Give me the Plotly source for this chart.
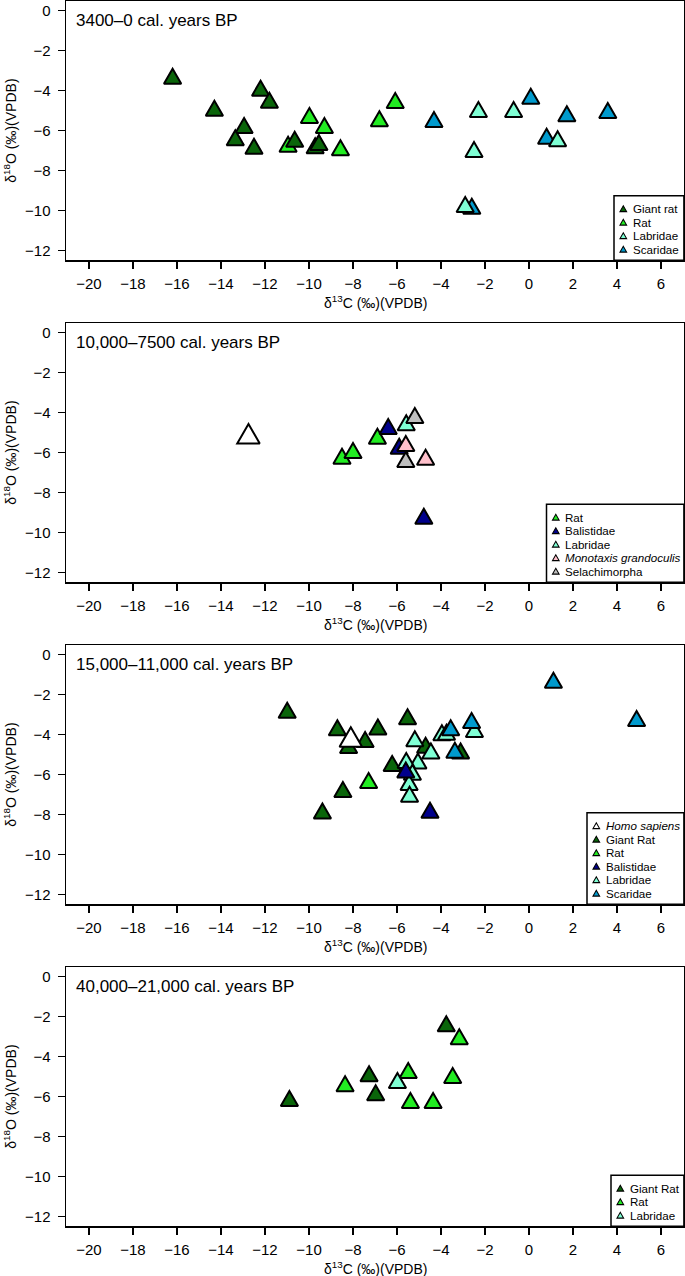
import math
import plotly.graph_objects as go

W, H = 685, 1276

X_RANGE = [-21.04, 7.04]
Y_RANGE = [-12.48, 0.48]
X_TICKS = list(range(-20, 7, 2))
Y_TICKS = list(range(-12, 1, 2))

PANEL_TITLES = ["3400–0 cal. years BP", "10,000–7500 cal. years BP",
                "15,000–11,000 cal. years BP", "40,000–21,000 cal. years BP"]

# ---- Panel 1: 3400–0 cal. years BP ----
p1_giant_rat_x = [-16.2, -14.3, -12.2, -11.8, -12.95, -13.35, -12.5, -10.65, -9.72, -9.55]
p1_giant_rat_y = [-3.4, -5.0, -4.0, -4.6, -5.87, -6.48, -6.9, -6.55, -6.88, -6.72]
p1_rat_x = [-10.95, -9.98, -9.3, -8.57, -6.8, -6.08]
p1_rat_y = [-6.8, -5.37, -5.87, -6.98, -5.53, -4.62]
p1_scaridae_x = [-4.32, 0.08, 0.8, 1.72, 3.58, -2.6]
p1_scaridae_y = [-5.57, -4.4, -6.4, -5.28, -5.12, -9.9]
p1_labridae_x = [-2.3, -2.5, -0.7, 1.3, -2.9]
p1_labridae_y = [-5.07, -7.07, -5.07, -6.53, -9.82]

# ---- Panel 2: 10,000–7500 cal. years BP ----
p2_homo_x = [-12.75]
p2_homo_y = [-5.21]
p2_rat_x = [-8.5, -8.0, -6.89]
p2_rat_y = [-6.3, -6.02, -5.3]
p2_balistidae_x = [-6.4, -5.9, -4.78]
p2_balistidae_y = [-4.82, -5.8, -9.3]
p2_labridae_x = [-5.58]
p2_labridae_y = [-4.63]
p2_monotaxis_x = [-5.6, -4.7]
p2_monotaxis_y = [-5.67, -6.35]
p2_selachimorpha_x = [-5.19, -5.6]
p2_selachimorpha_y = [-4.27, -6.47]

# ---- Panel 3: 15,000–11,000 cal. years BP ----
p3_homo_x = [-8.1]
p3_homo_y = [-4.28]
p3_giant_rat_x = [-10.99, -5.52, -8.71, -6.87, -7.45, -8.2, -4.7, -3.11, -6.22, -8.46, -9.39]
p3_giant_rat_y = [-2.9, -3.23, -3.78, -3.74, -4.36, -4.66, -4.65, -4.94, -5.56, -6.86, -7.94]
p3_rat_x = [-7.29]
p3_rat_y = [-6.41]
p3_balistidae_x = [-5.6, -4.5]
p3_balistidae_y = [-5.89, -7.9]
p3_labridae_x = [-5.19, -4.46, -5.05, -5.58, -5.3, -5.45, -5.43, -3.96, -3.75, -2.48]
p3_labridae_y = [-4.33, -4.94, -5.44, -5.41, -6.0, -6.52, -7.1, -4.03, -4.0, -3.86]
p3_scaridae_x = [1.11, 4.89, -3.56, -2.61, -3.37]
p3_scaridae_y = [-1.40, -3.31, -3.78, -3.41, -4.9]

# ---- Panel 4: 40,000–21,000 cal. years BP ----
p4_giant_rat_x = [-10.89, -7.27, -6.97, -3.76]
p4_giant_rat_y = [-6.22, -4.98, -5.93, -2.48]
p4_rat_x = [-8.36, -5.49, -5.39, -4.36, -3.47, -3.17]
p4_rat_y = [-5.48, -4.82, -6.32, -6.32, -5.07, -3.13]
p4_labridae_x = [-5.98]
p4_labridae_y = [-5.32]

COL = {
    "Giant rat": "#0a650a",
    "Rat": "#22ec22",
    "Labridae": "#7fffd4",
    "Scaridae": "#009acd",
    "Balistidae": "#00008b",
    "Monotaxis": "#ffc0cb",
    "Selachimorpha": "#bebebe",
    "Homo": "#ffffff",
}

# draw order per panel: (key, x, y, big)
panels = [
    [("Rat", p1_rat_x, p1_rat_y, False), ("Giant rat", p1_giant_rat_x, p1_giant_rat_y, False),
     ("Scaridae", p1_scaridae_x, p1_scaridae_y, False), ("Labridae", p1_labridae_x, p1_labridae_y, False)],
    [("Homo", p2_homo_x, p2_homo_y, True), ("Rat", p2_rat_x, p2_rat_y, False),
     ("Balistidae", p2_balistidae_x, p2_balistidae_y, False), ("Labridae", p2_labridae_x, p2_labridae_y, False),
     ("Monotaxis", p2_monotaxis_x, p2_monotaxis_y, False),
     ("Selachimorpha", p2_selachimorpha_x, p2_selachimorpha_y, False)],
    [("Giant rat", p3_giant_rat_x, p3_giant_rat_y, False), ("Rat", p3_rat_x, p3_rat_y, False),
     ("Labridae", p3_labridae_x, p3_labridae_y, False), ("Balistidae", p3_balistidae_x, p3_balistidae_y, False),
     ("Scaridae", p3_scaridae_x, p3_scaridae_y, False), ("Homo", p3_homo_x, p3_homo_y, True)],
    [("Giant rat", p4_giant_rat_x, p4_giant_rat_y, False), ("Rat", p4_rat_x, p4_rat_y, False),
     ("Labridae", p4_labridae_x, p4_labridae_y, False)],
]

legends = [
    [("Giant rat", "Giant rat"), ("Rat", "Rat"), ("Labridae", "Labridae"), ("Scaridae", "Scaridae")],
    [("Rat", "Rat"), ("Balistidae", "Balistidae"), ("Labridae", "Labridae"),
     ("Monotaxis", "<i>Monotaxis grandoculis</i>"), ("Selachimorpha", "Selachimorpha")],
    [("Homo", "<i>Homo sapiens</i>"), ("Giant rat", "Giant Rat"), ("Rat", "Rat"),
     ("Balistidae", "Balistidae"), ("Labridae", "Labridae"), ("Scaridae", "Scaridae")],
    [("Giant rat", "Giant Rat"), ("Rat", "Rat"), ("Labridae", "Labridae")],
]
LEG_LEFT = [614, 546.5, 587, 611]

FONT = "Liberation Sans, Arial, Helvetica, sans-serif"
PLOT_LEFT, PLOT_RIGHT = 66.1, 683.9
TOP0, STEP, PH = 1.1, 322.0, 259.2
SIDE = 17.3          # triangle side, px
BIG = 1.3            # size factor for Homo sapiens
PX_PER_X = (PLOT_RIGHT - PLOT_LEFT) / (X_RANGE[1] - X_RANGE[0])
PX_PER_Y = PH / (Y_RANGE[1] - Y_RANGE[0])


def pxx(p):
    return p / W


def pxy(p):
    return 1 - p / H


def triangle(x, y, side):
    """equilateral triangle (in data units) with centroid at (x, y)"""
    hx = side / 2 / PX_PER_X
    h = side * math.sqrt(3) / 2 / PX_PER_Y
    tx = [x - hx, x + hx, x, x - hx, x + hx]
    ty = [y - h / 3, y - h / 3, y + 2 * h / 3, y - h / 3, y - h / 3]
    return tx, ty


fig = go.Figure()
annotations = []
shapes = []

for i, groups in enumerate(panels):
    n = i + 1
    top = TOP0 + i * STEP
    bot = top + PH
    xa = "x" if n == 1 else f"x{n}"
    ya = "y" if n == 1 else f"y{n}"
    for key, xs, ys, big in groups:
        for x, y in zip(xs, ys):
            tx, ty = triangle(x, y, SIDE * (BIG if big else 1.0))
            fig.add_trace(go.Scatter(
                x=tx, y=ty, mode="lines", fill="toself", fillcolor=COL[key],
                line=dict(color="black", width=2), xaxis=xa, yaxis=ya,
                showlegend=False, hoverinfo="skip",
            ))
    axcommon = dict(showgrid=False, zeroline=False, showline=True, linecolor="black",
                    linewidth=1.6, mirror=True, ticks="outside", ticklen=7, tickwidth=1.4,
                    tickcolor="black", tickfont=dict(family=FONT, size=15, color="black"))
    fig.layout[f"xaxis{n}" if n > 1 else "xaxis"] = dict(
        axcommon, domain=[pxx(PLOT_LEFT), pxx(PLOT_RIGHT)], range=X_RANGE,
        tickvals=X_TICKS, anchor=ya, ticklabelstandoff=2, fixedrange=True)
    fig.layout[f"yaxis{n}" if n > 1 else "yaxis"] = dict(
        axcommon, domain=[pxy(bot), pxy(top)], range=Y_RANGE,
        tickvals=Y_TICKS, anchor=xa, ticklabelstandoff=4, fixedrange=True)

    annotations.append(dict(text=PANEL_TITLES[i], x=pxx(PLOT_LEFT + 8.2), y=pxy(top + 19.5),
                            xref="paper", yref="paper", xanchor="left", yanchor="middle",
                            showarrow=False, font=dict(family=FONT, size=17, color="black")))
    annotations.append(dict(text="δ<sup>18</sup>O (‰)(VPDB)", x=pxx(10), y=pxy((top + bot) / 2),
                            xref="paper", yref="paper", xanchor="center", yanchor="middle",
                            textangle=-90, showarrow=False,
                            font=dict(family=FONT, size=14, color="black")))
    annotations.append(dict(text="δ<sup>13</sup>C (‰)(VPDB)", x=pxx((PLOT_LEFT + PLOT_RIGHT) / 2),
                            y=pxy(bot + 41.4), xref="paper", yref="paper", xanchor="center",
                            yanchor="middle", showarrow=False,
                            font=dict(family=FONT, size=14, color="black")))

    # legend box
    items = legends[i]
    L = LEG_LEFT[i]
    lh = len(items) * 13.5 + 10.5
    ltop = bot - lh
    shapes.append(dict(type="rect", xref="paper", yref="paper", x0=pxx(L), x1=pxx(PLOT_RIGHT),
                       y0=pxy(bot), y1=pxy(ltop), line=dict(color="black", width=1.5),
                       fillcolor="white", layer="above"))
    for k, (key, label) in enumerate(items):
        cy = ltop + 13 + k * 13.5
        cx = L + 9.3
        path = (f"M {pxx(cx - 3.3)},{pxy(cy + 2.8)} L {pxx(cx + 3.3)},{pxy(cy + 2.8)} "
                f"L {pxx(cx)},{pxy(cy - 3.0)} Z")
        shapes.append(dict(type="path", xref="paper", yref="paper", path=path,
                           fillcolor=COL[key], line=dict(color="black", width=1.1), layer="above"))
        annotations.append(dict(text=label, x=pxx(L + 16.8), y=pxy(cy), xref="paper", yref="paper",
                                xanchor="left", yanchor="middle", showarrow=False,
                                font=dict(family=FONT, size=11.6, color="black")))

fig.update_layout(width=W, height=H, margin=dict(l=0, r=0, t=0, b=0),
                  plot_bgcolor="white", paper_bgcolor="white",
                  annotations=annotations, shapes=shapes, showlegend=False)

fig.write_html("out.html", config={"displayModeBar": False, "staticPlot": True},
               post_script="document.body.style.margin='0';document.body.style.overflow='hidden';")
